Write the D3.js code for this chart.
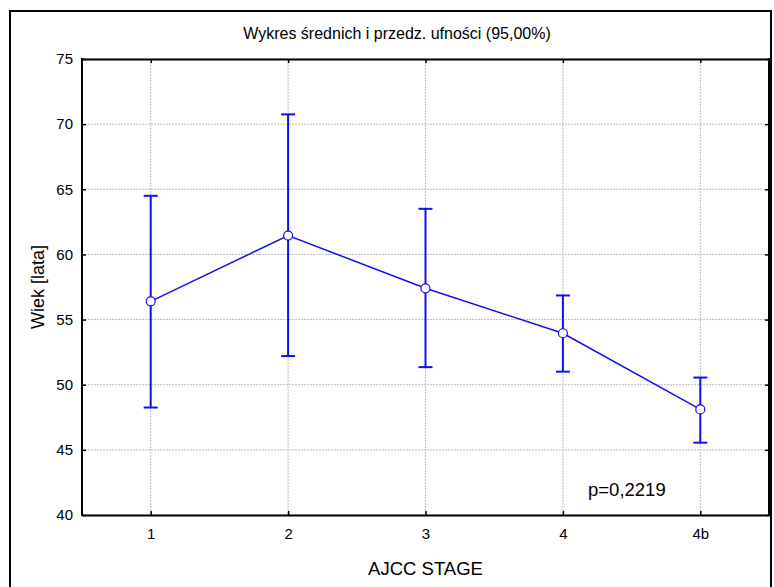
<!DOCTYPE html>
<html>
<head>
<meta charset="utf-8">
<script src="https://cdn.jsdelivr.net/npm/d3@7"></script>
<style>
  body { margin: 0; background: #fff; }
  text { font-family: "Liberation Sans", Arial, sans-serif; fill: #000; }
</style>
</head>
<body>
<svg width="774" height="587"></svg>
<script>
var svg = d3.select("svg");

// data
var stages = ["1", "2", "3", "4", "4b"];
var means = [56.4, 61.45, 57.4, 53.95, 48.1];
var upper = [64.5, 70.75, 63.5, 56.85, 50.55];
var lower = [48.25, 52.2, 51.35, 51.0, 45.55];
var yTicks = [40, 45, 50, 55, 60, 65, 70, 75];

var pLeft = 82, pRight = 769, pTop = 59, pBottom = 515;

var x = d3.scalePoint().domain(stages).range([pLeft, pRight]).padding(0.5);
var y = d3.scaleLinear().domain([40, 75]).range([pBottom, pTop]);

// outer frame
svg.append("rect")
  .attr("x", 10).attr("y", 11)
  .attr("width", 761).attr("height", 600)
  .attr("fill", "none").attr("stroke", "#000").attr("stroke-width", 2);

svg.append("text")
  .attr("x", 397).attr("y", 39)
  .attr("text-anchor", "middle")
  .attr("font-size", "16px")
  .text("Wykres średnich i przedz. ufności (95,00%)");

// grid
var grid = svg.append("g").attr("stroke", "#bdbdbd").attr("stroke-dasharray", "2,1");
grid.selectAll(".gx").data(stages).enter().append("line")
  .attr("x1", d => x(d)).attr("x2", d => x(d))
  .attr("y1", pTop).attr("y2", pBottom);
grid.selectAll(".gy").data(yTicks).enter().append("line")
  .attr("x1", pLeft).attr("x2", pRight)
  .attr("y1", d => y(d)).attr("y2", d => y(d));

// axes (inner ticks on all sides)
var axL = svg.append("g").attr("transform", "translate(" + pLeft + ",0)")
  .call(d3.axisLeft(y).tickValues(yTicks).tickSizeInner(-4).tickSizeOuter(0).tickPadding(9));
var axR = svg.append("g").attr("transform", "translate(" + pRight + ",0)")
  .call(d3.axisRight(y).tickValues(yTicks).tickSizeInner(-4).tickSizeOuter(0).tickFormat(""));
var axB = svg.append("g").attr("transform", "translate(0," + pBottom + ")")
  .call(d3.axisBottom(x).tickSizeInner(-4).tickSizeOuter(0).tickPadding(13));
var axT = svg.append("g").attr("transform", "translate(0," + pTop + ")")
  .call(d3.axisTop(x).tickSizeInner(-4).tickSizeOuter(0).tickFormat(""));

[axL, axR, axB, axT].forEach(function(a) {
  a.select(".domain").attr("stroke", "#000").attr("stroke-width", 2);
  a.selectAll(".tick line").attr("stroke", "#000").attr("stroke-width", 1.5);
  a.selectAll(".tick text").attr("font-size", "15px")
    .attr("font-family", "Liberation Sans, Arial, sans-serif");
});
axL.select(".domain").attr("d", "M0," + (pTop - 1) + "V" + (pBottom + 1));
axR.select(".domain").attr("d", "M0," + (pTop - 1) + "V" + (pBottom + 1));

// error bars
var blue = "#1010f0";
var eb = svg.append("g").attr("stroke", blue).attr("stroke-width", 2);
stages.forEach(function(s, i) {
  eb.append("line").attr("x1", x(s)).attr("x2", x(s)).attr("y1", y(upper[i])).attr("y2", y(lower[i]));
  eb.append("line").attr("x1", x(s) - 7).attr("x2", x(s) + 7).attr("y1", y(upper[i])).attr("y2", y(upper[i]));
  eb.append("line").attr("x1", x(s) - 7).attr("x2", x(s) + 7).attr("y1", y(lower[i])).attr("y2", y(lower[i]));
});

// mean line
var line = d3.line().x((d, i) => x(stages[i])).y(d => y(d));
svg.append("path").datum(means)
  .attr("d", line).attr("fill", "none")
  .attr("stroke", blue).attr("stroke-width", 1.5);

svg.selectAll(".pt").data(means).enter().append("circle")
  .attr("cx", (d, i) => x(stages[i])).attr("cy", d => y(d))
  .attr("r", 4.5).attr("fill", "#fff")
  .attr("stroke", blue).attr("stroke-width", 1.2);

svg.append("text")
  .attr("x", 588).attr("y", 496)
  .attr("font-size", "18.5px")
  .text("p=0,2219");

svg.append("text")
  .attr("x", (pLeft + pRight) / 2).attr("y", 575)
  .attr("text-anchor", "middle")
  .attr("font-size", "18.5px")
  .text("AJCC STAGE");

svg.append("text")
  .attr("transform", "translate(38," + (pTop + pBottom) / 2 + ") rotate(-90)")
  .attr("text-anchor", "middle")
  .attr("dy", "0.35em")
  .attr("font-size", "18px")
  .text("Wiek [lata]");
</script>
</body>
</html>
